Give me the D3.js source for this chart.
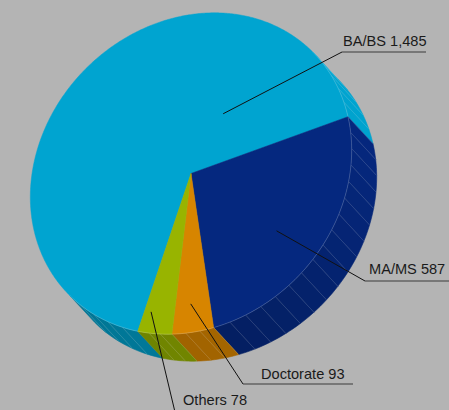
<!DOCTYPE html>
<html>
<head>
<meta charset="utf-8">
<script src="https://cdn.jsdelivr.net/npm/d3@7"></script>
<style>
  html, body { margin: 0; padding: 0; background: #b4b4b4; }
  svg { display: block; }
</style>
</head>
<body>
<svg id="chart" width="449" height="410"></svg>
<script>
// Degrees awarded by level
const categories = ["BA/BS", "MA/MS", "Doctorate", "Others"];
const values = [1485, 587, 93, 78];
const sliceColors = ["#00a4d0", "#05287f", "#d78500", "#98b400"];

// Label placement: where the leader starts inside the slice (fraction of the
// slice's sweep, fraction of the radius), the elbow, underline end and text origin.
const labelLayout = [
  { at: 0.80, r: 0.40, elbow: [342, 52],  end: [426, 52],  text: [343, 46] },
  { at: 0.55, r: 0.69, elbow: [365, 281], end: [449, 281], text: [369, 274] },
  { at: 0.55, r: 0.82, elbow: [243, 384], end: [353, 384], text: [261, 379] },
  { at: 0.78, r: 0.87, elbow: [175, 412], end: [265, 412], text: [183, 405] }
];

const W = 449, H = 410;
const svg = d3.select("#chart");
svg.append("rect").attr("width", W).attr("height", H).attr("fill", "#b4b4b4");

// Tilted disc: the circular top face projects to an ellipse whose major axis runs
// along the up-right diagonal; the thickness is extruded toward the lower right.
const center = [191, 173.5];
const semiMajor = 172, semiMinor = 148.5;
const axisU = [Math.SQRT1_2, -Math.SQRT1_2];
const axisV = [Math.SQRT1_2, Math.SQRT1_2];
const depth = [25, 27];
const rad = d => d * Math.PI / 180;
const deg = r => r * 180 / Math.PI;

function proj(thetaDeg, r = 1, z = 0) {
  const t = rad(thetaDeg);
  const a = r * semiMajor * Math.cos(t), b = r * semiMinor * Math.sin(t);
  return [
    center[0] + a * axisU[0] + b * axisV[0] + z * depth[0],
    center[1] + a * axisU[1] + b * axisV[1] + z * depth[1]
  ];
}

// Slices run clockwise; MA/MS begins just below the upper-right rim.
const total = d3.sum(values);
const startDeg = 28.5 - 360 * values[0] / total;
const pie = d3.pie().sort(null).value(x => x)
  .startAngle(rad(startDeg))
  .endAngle(rad(startDeg + 360));
const arcs = pie(values).map((p, i) => ({
  i, value: values[i],
  a0: deg(p.startAngle), a1: deg(p.endAngle)
}));

const line = d3.line();

// Side wall brightness: facets facing right stay bright, those facing down darken.
function shade(thetaDeg) {
  const c = (1 + Math.cos(rad(thetaDeg - 10))) / 2;
  return 0.72 + 0.28 * Math.pow(c, 1.5);
}

// ---- side wall facets (front half only: 0..180 in disc angle) ----
const sideG = svg.append("g");
arcs.forEach(d => {
  const ranges = [];
  for (let k = -1; k <= 1; k++) {
    const lo = Math.max(d.a0, 360 * k), hi = Math.min(d.a1, 360 * k + 180);
    if (hi > lo) ranges.push([lo, hi]);
  }
  const base = d3.rgb(sliceColors[d.i]);
  ranges.forEach(([lo, hi]) => {
    const n = Math.max(1, Math.ceil((hi - lo) / 6));
    const step = (hi - lo) / n;
    for (let j = 0; j < n; j++) {
      const t0 = lo + j * step, t1 = t0 + step;
      const pts = [];
      for (let t = t0; t <= t1 + 1e-6; t += step / 4) pts.push(proj(t, 1, 0));
      for (let t = t1; t >= t0 - 1e-6; t -= step / 4) pts.push(proj(t, 1, 1));
      const f = shade((t0 + t1) / 2);
      const col = d3.rgb(base.r * f, base.g * f, base.b * f);
      sideG.append("path")
        .attr("d", line(pts) + "Z")
        .attr("fill", col)
        .attr("stroke", col)
        .attr("stroke-width", 0.6);
      // facet seam
      sideG.append("path")
        .attr("d", line([proj(t0, 1, 0), proj(t0, 1, 1)]))
        .attr("stroke", "rgba(255,255,255,0.22)")
        .attr("stroke-width", 0.6)
        .attr("fill", "none");
    }
  });
});

// ---- top face slices ----
const topG = svg.append("g");
arcs.forEach(d => {
  const pts = [center];
  const n = Math.ceil((d.a1 - d.a0) / 0.5);
  for (let j = 0; j <= n; j++) pts.push(proj(d.a0 + (d.a1 - d.a0) * j / n));
  topG.append("path")
    .attr("d", line(pts) + "Z")
    .attr("fill", sliceColors[d.i])
    .attr("stroke", sliceColors[d.i])
    .attr("stroke-width", 0.5)
    .attr("stroke-linejoin", "round");
});

// light rim where the top face meets the wall
const rimPts = d3.range(0, 180.01, 0.5).map(t => proj(t));
svg.append("path")
  .attr("d", line(rimPts))
  .attr("fill", "none")
  .attr("stroke", "rgba(255,255,255,0.28)")
  .attr("stroke-width", 0.7);

// ---- labels ----
const fmt = d3.format(",");
const labG = svg.append("g");
arcs.forEach(d => {
  const L = labelLayout[d.i];
  const anchor = proj(d.a0 + (d.a1 - d.a0) * L.at, L.r);
  labG.append("path")
    .attr("d", line([anchor, L.elbow]))
    .attr("fill", "none")
    .attr("stroke", "#111")
    .attr("stroke-width", 1);
  labG.append("path")
    .attr("d", line([L.elbow, L.end]))
    .attr("fill", "none")
    .attr("stroke", "#3a3a3a")
    .attr("stroke-width", 1.2);
  labG.append("text")
    .attr("x", L.text[0]).attr("y", L.text[1])
    .attr("font-family", "'Liberation Sans', Arial, sans-serif")
    .attr("font-size", "14.6px")
    .attr("fill", "#1a1a1a")
    .text(categories[d.i] + " " + fmt(d.value));
});
</script>
</body>
</html>
